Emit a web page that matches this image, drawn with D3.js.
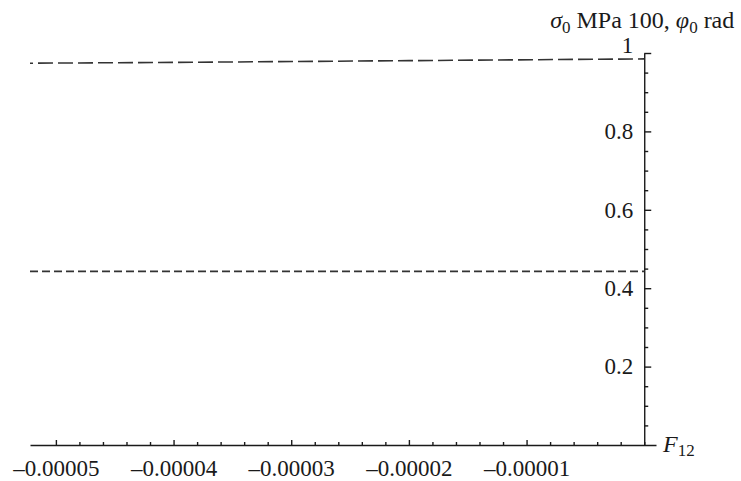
<!DOCTYPE html>
<html>
<head>
<meta charset="utf-8">
<script src="https://cdn.jsdelivr.net/npm/d3@7"></script>
<style>
  html, body { margin: 0; padding: 0; background: #fff; }
  svg { display: block; font-family: "Liberation Serif", "DejaVu Serif", serif; }
</style>
</head>
<body>
<div id="chart"></div>
<script>
// values
const f12 = [-0.0000522, -0.00004, -0.00002, 0];
const sigma0 = [0.974, 0.976, 0.9805, 0.985];   // long dashes
const phi0 = [0.443, 0.443, 0.443, 0.443];       // short dashes

const xMajor = [-0.00005, -0.00004, -0.00003, -0.00002, -0.00001];
const xMajorLabels = ["–0.00005", "–0.00004", "–0.00003", "–0.00002", "–0.00001"];
const yMajor = [0.2, 0.4, 0.6, 0.8, 1];
const yMajorLabels = ["0.2", "0.4", "0.6", "0.8", "1"];

const width = 741, height = 481;

const svg = d3.select("#chart").append("svg")
  .attr("width", width)
  .attr("height", height);

const x = d3.scaleLinear().domain([-0.0000522, 0.0000010]).range([30, 656]);
const y = d3.scaleLinear().domain([0, 1]).range([445, 53]);

const ink = "#1a1a1a";

// minor ticks
const xMinor = d3.range(-25, 1).map(i => i * 0.000002).filter(v => !xMajor.some(m => Math.abs(m - v) < 1e-9));
const yMinor = d3.range(1, 20).map(i => i * 0.05).filter(v => !yMajor.some(m => Math.abs(m - v) < 1e-9));

// x axis
const xAxisG = svg.append("g").attr("transform", `translate(0,${y(0)})`);
xAxisG.call(d3.axisBottom(x).tickValues(xMajor)
  .tickFormat((d, i) => xMajorLabels[i])
  .tickSizeInner(-5).tickSizeOuter(0).tickPadding(15));
svg.append("g").attr("transform", `translate(0,${y(0)})`)
  .call(d3.axisBottom(x).tickValues(xMinor).tickFormat("")
    .tickSizeInner(-3).tickSizeOuter(0))
  .select(".domain").remove();

// y axis
const yAxisG = svg.append("g").attr("transform", `translate(${x(0)},0)`);
yAxisG.call(d3.axisLeft(y).tickValues(yMajor)
  .tickFormat((d, i) => yMajorLabels[i])
  .tickSizeInner(-7).tickSizeOuter(0).tickPadding(11));
svg.append("g").attr("transform", `translate(${x(0)},0)`)
  .call(d3.axisLeft(y).tickValues(yMinor).tickFormat("")
    .tickSizeInner(-4).tickSizeOuter(0))
  .select(".domain").remove();

svg.selectAll(".domain, .tick line")
  .attr("stroke", ink).attr("stroke-width", 1.4);
svg.selectAll(".tick text")
  .attr("fill", ink)
  .style("font-size", "23px")
  .style("font-family", "'Liberation Serif', serif");

// the "1" label sits above its tick
yAxisG.selectAll(".tick text").filter(d => d === 1).attr("dy", "-0.02em");

// lines
const pts = (ys) => f12.map((v, i) => ({ x: v, y: ys[i] }));
const line = d3.line().x(d => x(d.x)).y(d => y(d.y));

svg.append("path")
  .datum(pts(sigma0))
  .attr("d", line)
  .attr("fill", "none")
  .attr("stroke", "#333")
  .attr("stroke-width", 1.6)
  .attr("stroke-dasharray", "15,5")
  .attr("stroke-dashoffset", 12);

svg.append("path")
  .datum(pts(phi0))
  .attr("d", line)
  .attr("fill", "none")
  .attr("stroke", "#333")
  .attr("stroke-width", 1.6)
  .attr("stroke-dasharray", "8,4");

// axis labels
const yLab = svg.append("text")
  .attr("x", x(0) - 2).attr("y", 28)
  .attr("text-anchor", "middle")
  .attr("fill", ink)
  .style("font-size", "24px");
yLab.append("tspan").style("font-style", "italic").text("σ");
yLab.append("tspan").attr("dy", 5).style("font-size", "17px").text("0");
yLab.append("tspan").attr("dy", -5).text(" MPa 100, ");
yLab.append("tspan").style("font-style", "italic").text("φ");
yLab.append("tspan").attr("dy", 5).style("font-size", "17px").text("0");
yLab.append("tspan").attr("dy", -5).text(" rad");

const xLab = svg.append("text")
  .attr("x", 663).attr("y", 452)
  .attr("fill", ink)
  .style("font-size", "24px");
xLab.append("tspan").style("font-style", "italic").text("F");
xLab.append("tspan").attr("dy", 4).style("font-size", "17px").text("12");
</script>
</body>
</html>
